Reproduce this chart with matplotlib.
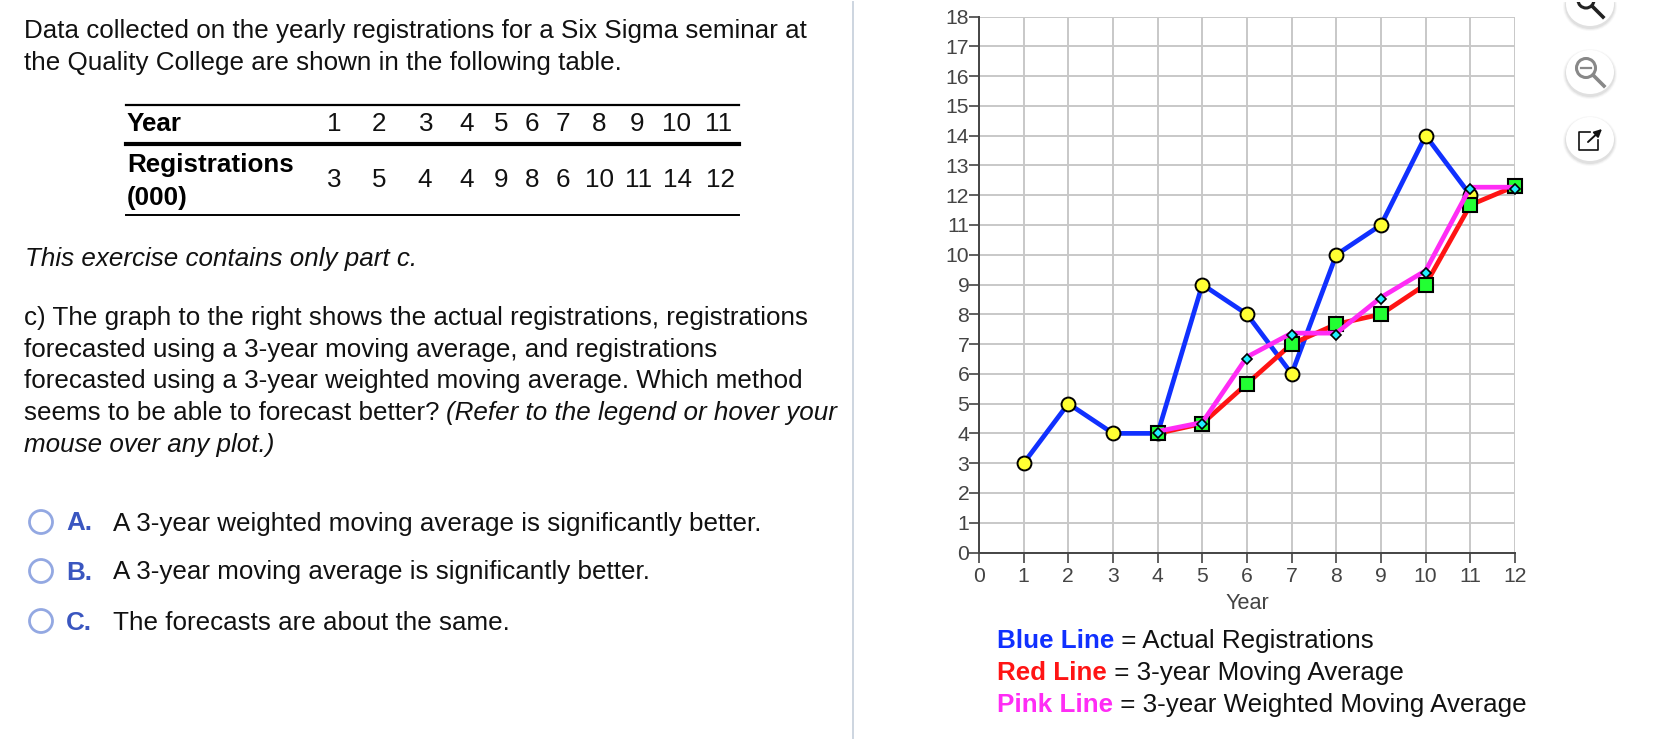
import matplotlib

matplotlib.use("Agg")
import matplotlib.pyplot as plt
import matplotlib.transforms as mtransforms
from matplotlib.patches import Circle, Ellipse, Rectangle

plt.rcParams["font.family"] = ["Liberation Sans", "DejaVu Sans"]

W, H = 1658, 754
FS = 18.7

years = list(range(1, 12))
registrations = [3, 5, 4, 4, 9, 8, 6, 10, 11, 14, 12]
forecast_years = [4, 5, 6, 7, 8, 9, 10, 11, 12]
moving_avg = [4, 4.33, 5.67, 7, 7.67, 8, 9, 11.67, 12.3]
weighted_avg = [4, 4.3, 6.5, 7.3, 7.3, 8.5, 9.4, 12.2, 12.2]

intro_lines = [
    "Data collected on the yearly registrations for a Six Sigma seminar at",
    "the Quality College are shown in the following table.",
]
part_lines = [
    ("c) The graph to the right shows the actual registrations, registrations", None),
    ("forecasted using a 3-year moving average, and registrations", None),
    ("forecasted using a 3-year weighted moving average. Which method", None),
    ("seems to be able to forecast better? ", "(Refer to the legend or hover your"),
    (None, "mouse over any plot.)"),
]
choices = [
    ("A.", "A 3-year weighted moving average is significantly better."),
    ("B.", "A 3-year moving average is significantly better."),
    ("C.", "The forecasts are about the same."),
]
legend_rows = [
    ("Blue Line", "#1030ff", " = Actual Registrations"),
    ("Red Line", "#ff1414", " = 3-year Moving Average"),
    ("Pink Line", "#ff2cf5", " = 3-year Weighted Moving Average"),
]


def _text_run(ax, x, y, s, **kw):
    # returns right edge in pixels so runs can be chained
    t = ax.text(x, y, s, va="center", ha="left", **kw)
    bb = t.get_window_extent(ax.figure.canvas.get_renderer())
    return x + bb.width


def _draw_page(ax):
    for y, line in zip([31, 63], intro_lines):
        ax.text(24, y, line, fontsize=FS, color="#111111", va="center")

    # table
    ax.plot([126, 739], [105, 105], color="black", lw=1.6)
    ax.plot([126, 739], [144, 144], color="black", lw=3.0)
    ax.plot([126, 739], [215, 215], color="black", lw=1.4)
    ax.text(127, 124, "Year", fontsize=FS, fontweight="bold", va="center")
    ax.text(127, 165, "Registrations", fontsize=FS, fontweight="bold", va="center")
    ax.text(127, 198, "(000)", fontsize=FS, fontweight="bold", va="center")
    head_x = [334, 379, 426, 467, 501, 532, 563, 599, 637, 677, 719]
    row_x = [334, 379, 425, 467, 501, 532, 563, 600, 639, 678, 720]
    for x, v in zip(head_x, years):
        ax.text(x, 124, str(v), fontsize=FS, ha="center", va="center", color="#111111")
    for x, v in zip(row_x, registrations):
        ax.text(x, 180, str(v), fontsize=FS, ha="center", va="center", color="#111111")

    ax.text(25, 259, "This exercise contains only part c.", fontsize=FS, style="italic",
            va="center", color="#111111")

    for y, (plain, italic) in zip([318, 350, 381, 413, 445], part_lines):
        x = 24
        if plain:
            x = _text_run(ax, x, y, plain, fontsize=FS, color="#111111") - 1
        if italic:
            _text_run(ax, x, y, italic, fontsize=FS, style="italic", color="#111111")

    for y, (letter, answer) in zip([522, 571, 621], choices):
        ax.add_patch(Circle((41, y), 11.5, fc="white", ec="#93a8e2", lw=2.0))
        ax.text(66, y + 1.5, letter, fontsize=FS, fontweight="bold", color="#3a56c0", va="center")
        ax.text(113, y + 1.5, answer, fontsize=FS, color="#111111", va="center")

    ax.plot([853, 853], [2, 738], color="#cdd5e0", lw=1.4)

    for y, (name, color, rest) in zip([641, 673, 705], legend_rows):
        x = _text_run(ax, 997, y, name, fontsize=FS, fontweight="bold", color=color)
        _text_run(ax, x, y, rest, fontsize=FS, color="#111111")


def _icon_base(ax, y):
    for grow, alpha in [(6, 0.04), (4, 0.06), (2, 0.09)]:
        ax.add_patch(Ellipse((1590, y + 2), 48 + grow, 44 + grow, fc="#555555", ec="none", alpha=alpha))
    ax.add_patch(Ellipse((1590, y), 48, 44, fc="white", ec="none"))


def _draw_icons(ax):
    _icon_base(ax, 4)
    ax.add_patch(Circle((1586, 0), 8, fc="none", ec="#222222", lw=2.2))
    ax.plot([1592, 1603], [6, 17], color="#222222", lw=2.6)

    _icon_base(ax, 72)
    ax.add_patch(Circle((1586, 68), 9.5, fc="none", ec="#888888", lw=2.2))
    ax.plot([1581, 1591], [68, 68], color="#888888", lw=1.6)
    ax.plot([1593, 1604], [75, 86], color="#888888", lw=2.6)

    _icon_base(ax, 139)
    ax.plot([1590, 1579, 1579, 1598, 1598], [132, 132, 150, 150, 140], color="#111111", lw=1.2)
    ax.annotate("", xy=(1602, 129), xytext=(1588, 142),
                arrowprops=dict(arrowstyle="-|>", color="#111111", lw=1.4, mutation_scale=11,
                                shrinkA=0, shrinkB=0))
    # the icon column is cut off at the very top of the page
    ax.add_patch(Rectangle((1540, -1), 118, 3, fc="white", ec="none", zorder=5))


def _draw_chart(fig):
    left, right, top, bottom = 979, 1515, 16.5, 552.5
    ax = fig.add_axes([left / W, 1 - bottom / H, (right - left) / W, (bottom - top) / H])
    ax.set_xlim(0, 12)
    ax.set_ylim(0, 18)
    ax.set_xticks(range(0, 13))
    ax.set_yticks(range(0, 19))
    ax.grid(color="#c8c8c8", lw=1.4, zorder=0)
    ax.set_axisbelow(True)
    for side in ["top", "right"]:
        ax.spines[side].set_visible(False)
    for side in ["left", "bottom"]:
        ax.spines[side].set_color("#444444")
        ax.spines[side].set_linewidth(1.4)
    ax.tick_params(axis="x", color="#444444", labelcolor="#444444", labelsize=15.2,
                   width=1.2, length=7, pad=3.5)
    ax.tick_params(axis="y", color="#444444", labelcolor="#444444", labelsize=15.2,
                   width=1.2, length=7, pad=0)
    ax.set_xlabel("Year", fontsize=15.6, color="#444444", labelpad=5)
    ax.patch.set_alpha(0)

    ax.plot(years, registrations, color="#1030ff", lw=3.4, marker="o", ms=10,
            mfc="#ffff33", mec="black", mew=1.4, clip_on=False, zorder=3)
    ax.plot(forecast_years, moving_avg, color="#ff1414", lw=3.4, marker="s", ms=9.5,
            mfc="#22ff33", mec="black", mew=1.5, clip_on=False, zorder=4)
    # the pink line sits a little above its own diamond markers
    lifted = mtransforms.offset_copy(ax.transData, fig=fig, x=0, y=2, units="dots")
    ax.plot(forecast_years, weighted_avg, color="#ff2cf5", lw=3.4, clip_on=False, zorder=5,
            transform=lifted)
    ax.plot(forecast_years, weighted_avg, ls="none", marker="D", ms=4.6,
            mfc="#22eeff", mec="black", mew=1.2, clip_on=False, zorder=6)


def main():
    fig = plt.figure(figsize=(W / 100, H / 100), dpi=100, facecolor="white")
    fig.canvas.get_renderer()
    page = fig.add_axes([0, 0, 1, 1])
    page.set_xlim(0, W)
    page.set_ylim(H, 0)
    page.axis("off")

    _draw_page(page)
    _draw_icons(page)
    _draw_chart(fig)

    fig.savefig("out.png", dpi=100)
    plt.close(fig)


if __name__ == "__main__":
    main()
